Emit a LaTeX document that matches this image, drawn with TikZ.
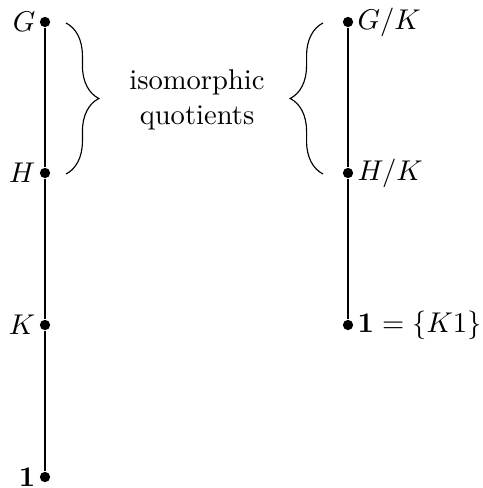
\documentclass[tikz,border=0pt]{standalone}
\usetikzlibrary{decorations.pathreplacing}
\begin{document}
\begin{tikzpicture}[x=0.35pt,y=-0.35pt,
  pt/.style={circle,fill,inner sep=0pt,minimum size=3.6pt},
  lbl/.style={inner sep=1.2pt},
  br/.style={decorate,decoration={brace,amplitude=11.5pt}}]
\useasboundingbox (0,0) rectangle (482,488);
\node[pt] (G) at (45,22) {};
\node[pt] (H) at (45,173) {};
\node[pt] (K) at (45,325) {};
\node[pt] (one) at (45,477) {};
\draw (G) -- (H) -- (K) -- (one);
\node[lbl,anchor=east] at (G.west) {$G$};
\node[lbl,anchor=east] at (H.west) {$H$};
\node[lbl,anchor=east] at (K.west) {$K$};
\node[lbl,anchor=east] at (one.west) {$\mathbf{1}$};
\node[pt] (GK) at (348,22) {};
\node[pt] (HK) at (348,173) {};
\node[pt] (oneK) at (348,325) {};
\draw (GK) -- (HK) -- (oneK);
\node[lbl,anchor=west] at (GK.east) {$G/K$};
\node[lbl,anchor=west] at (HK.east) {$H/K$};
\node[lbl,anchor=west] at (oneK.east) {$\mathbf{1}=\{K1\}$};
\coordinate (la) at (66,23);
\coordinate (lb) at (66,174);
\coordinate (ra) at (323,23);
\coordinate (rb) at (323,174);
\draw[br] (la) -- (lb);
\draw[br] (rb) -- (ra);
\node[align=center] (txt) at (197,100) {isomorphic\\quotients};
\end{tikzpicture}
\end{document}
